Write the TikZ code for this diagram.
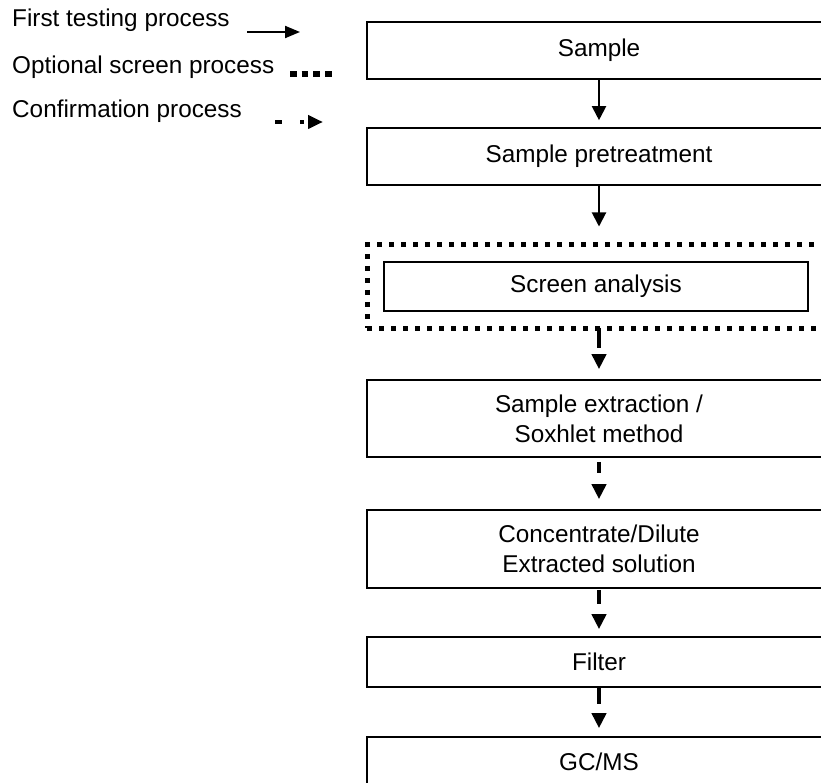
\documentclass[tikz,border=0pt]{standalone}
\usepackage{fontspec}
\setmainfont{Liberation Sans}
\usetikzlibrary{arrows.meta}
\newcommand{\diagfont}{\fontsize{24.3}{30}\selectfont}
\begin{document}
\begin{tikzpicture}[x=1pt,y=-1pt,
  box/.style={draw, line width=1.6pt, minimum width=464pt, inner sep=0pt, align=center, font=\diagfont},
  dotbox/.style={draw, line width=5pt, dash pattern=on 5pt off 7pt, minimum width=464pt, inner sep=0pt},
  leg/.style={inner sep=0pt, font=\diagfont},
  solidarr/.style={line width=2pt, -{Triangle[length=14pt,width=14pt]}},
  confarr/.style={line width=4pt, -{Triangle[length=15pt,width=14pt]}},
]
\useasboundingbox (0,0) rectangle (821,783);
\clip (0,0) rectangle (821,783);
\fill[white] (0,0) rectangle (821,783);

% legend
\node[leg, anchor=base west] (l1) at (12,27) {First testing process};
\node[leg, anchor=base west] (l2) at (12,74) {Optional screen process};
\node[leg, anchor=base west] (l3) at (12,118) {Confirmation process};
\coordinate (a1s) at (247,32);
\coordinate (a1e) at (300,32);
\draw[line width=2pt, -{Triangle[length=15pt,width=12pt]}] (a1s) -- (a1e);
\coordinate (d1s) at (290,74);
\coordinate (d1e) at (336,74);
\draw[line width=6.5pt, dash pattern=on 6.5pt off 5.2pt] (d1s) -- (d1e);
\coordinate (c1s) at (275,122);
\coordinate (c1e) at (323,122);
\draw[line width=4pt, dash pattern=on 7pt off 18pt on 4pt off 20pt, -{Triangle[length=15pt,width=13pt]}] (c1s) -- (c1e);

% flow
\node[box, minimum height=57pt] (sample) at (599,50.5) {Sample};
\node[box, minimum height=57pt] (pre) at (599,156.5) {Sample pretreatment};
\node[dotbox, minimum height=83pt] (scr) at (599,286.5) {};
\node[box, minimum width=424pt, minimum height=49pt] (screen) at (596,286.5) {Screen analysis};
\node[box, minimum height=77pt] (ext) at (599,418.5) {Sample extraction /\\Soxhlet method};
\node[box, minimum height=78pt] (conc) at (599,549) {Concentrate/Dilute\\Extracted solution};
\node[box, minimum height=50pt] (filt) at (599,662) {Filter};
\node[box, minimum height=50pt] (gcms) at (599,762) {GC/MS};

\draw[solidarr, shorten >=7pt] (sample.south) -- (pre.north);
\draw[solidarr, shorten >=16pt] (pre.south) -- (scr.north);
\draw[confarr, dash pattern=on 20pt off 100pt, shorten <=-3pt, shorten >=10pt] (scr.south) -- (ext.north);
\draw[confarr, dash pattern=on 11pt off 100pt, shorten <=4pt, shorten >=10pt] (ext.south) -- (conc.north);
\draw[confarr, dash pattern=on 14pt off 100pt, shorten <=1pt, shorten >=7pt] (conc.south) -- (filt.north);
\draw[confarr, dash pattern=on 16pt off 100pt, shorten >=8pt] (filt.south) -- (gcms.north);
\end{tikzpicture}
\end{document}
